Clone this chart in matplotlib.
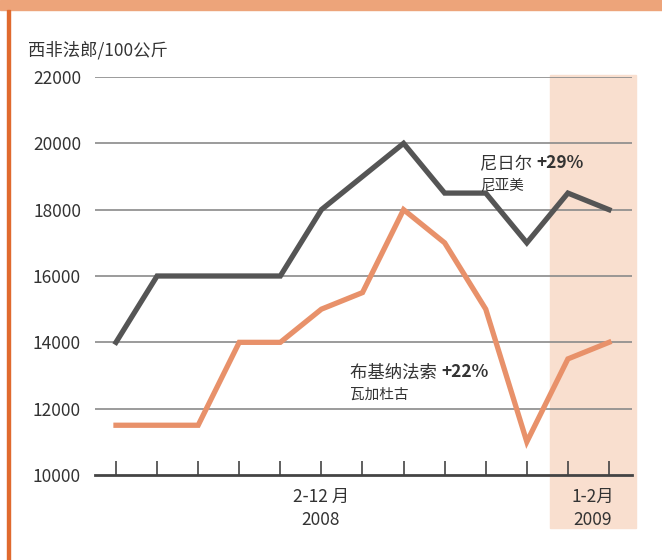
import numpy as np
import matplotlib.pyplot as plt
from matplotlib.patches import Rectangle

plt.rcParams['font.family'] = ['Noto Sans CJK SC', 'DejaVu Sans']

# Data
months = np.arange(13)     # 2008-02 ... 2009-02
niger = [14000, 16000, 16000, 16000, 16000, 18000, 19000, 20000, 18500, 18500, 17000, 18500, 18000]
burkina = [11500, 11500, 11500, 14000, 14000, 15000, 15500, 18000, 17000, 15000, 11000, 13500, 14000]
yticks = [10000, 12000, 14000, 16000, 18000, 20000, 22000]

W, H = 662, 560
fig = plt.figure(figsize=(W / 100, H / 100), dpi=100)

def fx(x):
    return x / W

def fy(y):
    return 1 - y / H

# decoration: top band + left rule
fig.patches.append(Rectangle((0, fy(10)), 1, 10 / H, transform=fig.transFigure,
                             color='#EDA47A', zorder=0))
fig.patches.append(Rectangle((fx(7), 0), 2.5 / W, fy(10), transform=fig.transFigure,
                             color='#E06A2E', zorder=0))

ax = fig.add_axes([fx(95), fy(475), fx(632) - fx(95), fy(77) - fy(475)])
ax.patch.set_alpha(0)
ax.set_xlim(-0.511, 12.56)
ax.set_ylim(10000, 22000)

# 2009 shaded box (behind everything in the axes)
ax.add_patch(Rectangle((fx(550), fy(528)), 86 / W, (528 - 75) / H,
                       transform=fig.transFigure, color='#F9DFCF',
                       zorder=0.5, clip_on=False))

for v in yticks[1:]:
    ax.axhline(v, color='#8a8a8a', lw=1.2, zorder=1)

ax.plot(months, niger, color='#555555', lw=3.8, solid_joinstyle='miter', zorder=3)
ax.plot(months, burkina, color='#E8916A', lw=3.8, solid_joinstyle='miter', zorder=3)

for s in ['top', 'right', 'left']:
    ax.spines[s].set_visible(False)
ax.spines['bottom'].set_color('#444444')
ax.spines['bottom'].set_linewidth(2)

ax.set_xticks(months)
ax.set_xticklabels([])
ax.tick_params(axis='x', direction='in', length=10, width=1.2, color='#444444')
ax.set_yticks(yticks)
ax.set_yticklabels([str(v) for v in yticks])
ax.tick_params(axis='y', length=0, pad=10, labelsize=12.5, labelcolor='#333333')

# labels
fig.text(fx(28), fy(50), '西非法郎/100公斤', fontsize=12.5, color='#333333', va='center')
fig.text(fx(321), fy(497), '2-12 月', fontsize=12.5, color='#333333', ha='center', va='center')
fig.text(fx(321), fy(520), '2008', fontsize=12.5, color='#333333', ha='center', va='center')
fig.text(fx(593), fy(497), '1-2月', fontsize=12.5, color='#333333', ha='center', va='center')
fig.text(fx(593), fy(520), '2009', fontsize=12.5, color='#333333', ha='center', va='center')

t1 = ax.text(8.86, 19250, '尼日尔 ', fontsize=12.5, color='#333333', va='baseline', zorder=4)
ax.annotate('+29%', xy=(1, 0), xycoords=t1, va='bottom', fontsize=12.5,
            fontweight='bold', color='#333333', zorder=4)
ax.text(8.86, 18600, '尼亚美', fontsize=10.5, color='#333333', va='baseline', zorder=4)

t2 = ax.text(5.7, 12950, '布基纳法索 ', fontsize=12.5, color='#333333', va='baseline', zorder=4)
ax.annotate('+22%', xy=(1, 0), xycoords=t2, va='bottom', fontsize=12.5,
            fontweight='bold', color='#333333', zorder=4)
ax.text(5.7, 12300, '瓦加杜古', fontsize=10.5, color='#333333', va='baseline', zorder=4)

fig.savefig('out.png', dpi=100)
